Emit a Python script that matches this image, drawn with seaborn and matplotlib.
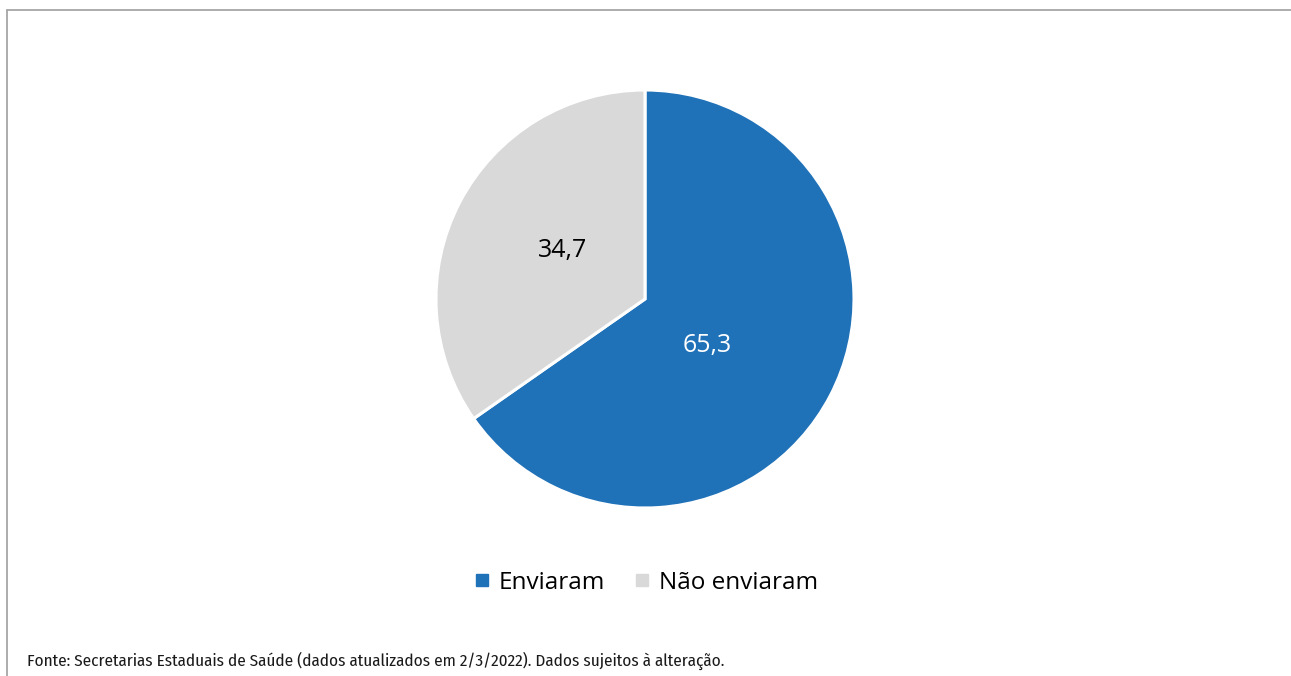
import numpy as np
import matplotlib
matplotlib.use("Agg")
import matplotlib.pyplot as plt
from matplotlib.lines import Line2D
import seaborn as sns

categories = ["Enviaram", "Não enviaram"]
values = [65.3, 34.7]
value_labels = ["65,3", "34,7"]
colors = ["#1f71b8", "#d9d9d9"]
text_colors = ["white", "black"]
source_note = "Fonte: Secretarias Estaduais de Saúde (dados atualizados em 2/3/2022). Dados sujeitos à alteração."

sns.set_theme(style="white")
plt.rcParams["font.family"] = ["Open Sans", "DejaVu Sans"]

W, H = 1291, 676
fig = plt.figure(figsize=(W / 100, H / 100), dpi=100)

cx, cy, r = 645, 299, 209
ax = fig.add_axes([(cx - r) / W, (H - cy - r) / H, 2 * r / W, 2 * r / H])
wedges, _ = ax.pie(values, colors=colors, startangle=90, counterclock=False,
                   radius=1.0, wedgeprops=dict(edgecolor="white", linewidth=2.2))
ax.set_xlim(-1, 1)
ax.set_ylim(-1, 1)
ax.set_aspect("equal")
ax.axis("off")

# value labels placed along each wedge's bisector
label_radius = [0.37, 0.46]
label_shift = [-9, -3]
for w, lab, tc, lr, sh in zip(wedges, value_labels, text_colors, label_radius, label_shift):
    mid = np.deg2rad((w.theta1 + w.theta2) / 2 + sh)
    ax.text(lr * np.cos(mid), lr * np.sin(mid), lab, ha="center", va="center",
            fontsize=18, color=tc)

handles = [Line2D([], [], marker="s", linestyle="none", markersize=8,
                  markerfacecolor=c, markeredgecolor=c) for c in colors]
leg = fig.legend(handles, categories, loc="center", bbox_to_anchor=(cx / W, 1 - 583 / H),
                 ncol=2, frameon=False, fontsize=17.5, handletextpad=0.3,
                 columnspacing=1.1, handlelength=0.8)
for t in leg.get_texts():
    t.set_color("black")

fig.text(27 / W, 1 - 661 / H, source_note, ha="left", va="center", fontsize=12.3,
         family=["Fira Sans Condensed", "DejaVu Sans"], color="#1a1a1a")

# outer frame along the top and left edges
fx, fy = 6.5 / W, 1 - 9.5 / H
fig.add_artist(Line2D([fx, 1], [fy, fy], transform=fig.transFigure, color="#a6a6a6", linewidth=1.3))
fig.add_artist(Line2D([fx, fx], [0, fy], transform=fig.transFigure, color="#a6a6a6", linewidth=1.3))

fig.savefig("out.png", dpi=100, facecolor="white")
